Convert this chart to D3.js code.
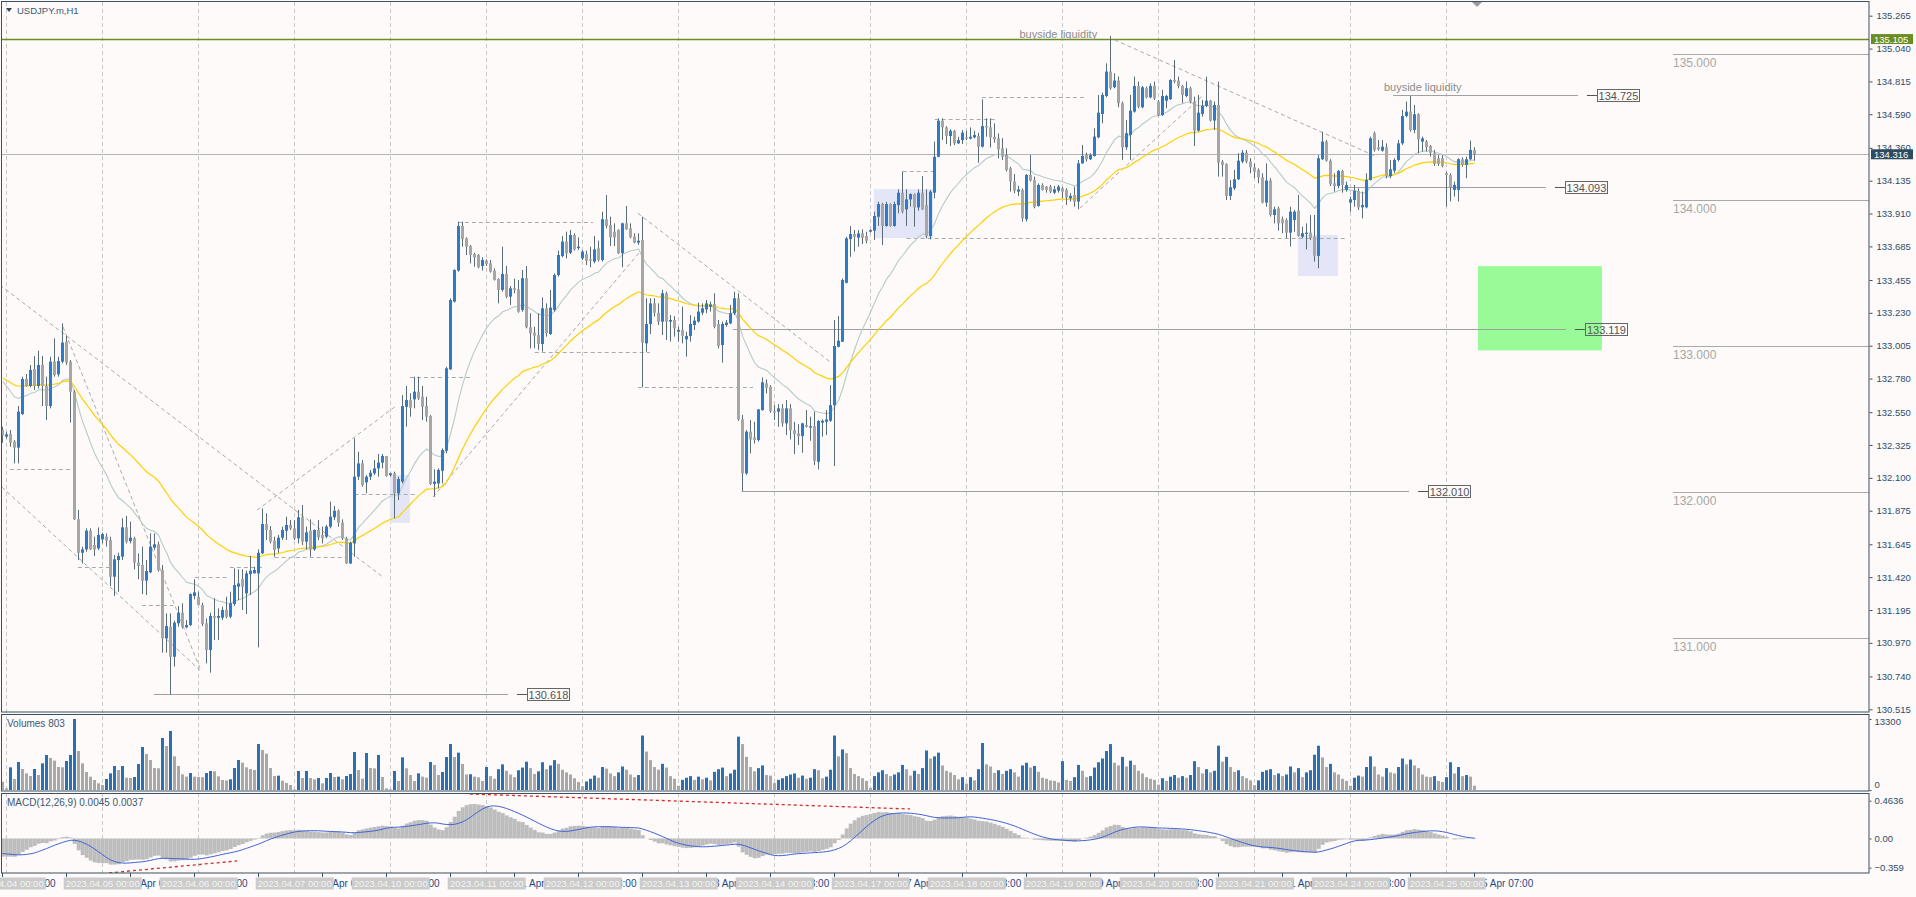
<!DOCTYPE html>
<html><head><meta charset="utf-8">
<script src="https://cdn.jsdelivr.net/npm/d3@7"></script>
<style>
html,body{margin:0;padding:0;background:#fdfaf9;overflow:hidden}
svg{display:block}
text{font-family:"Liberation Sans",Arial,sans-serif}
</style></head><body>
<svg id="c" width="1916" height="897"></svg>
<script>
// ---------------- DATA ----------------
const symbolTitle = "USDJPY.m,H1";
const days = ["2023.04.04","2023.04.05","2023.04.06","2023.04.07","2023.04.10","2023.04.11","2023.04.12","2023.04.13","2023.04.14","2023.04.17","2023.04.18","2023.04.19","2023.04.20","2023.04.21","2023.04.24","2023.04.25"];
const firstBar = -1; // last hour of 2023.04.03
const opens = [132.43,132.382,132.400,132.348,132.307,132.537,132.777,132.729,132.845,132.729,132.873,132.729,132.592,132.896,132.809,132.896,133.033,132.896,132.690,131.816,131.587,131.610,131.738,131.640,131.617,131.679,131.697,131.674,131.423,131.537,131.560,131.761,131.667,131.686,131.519,131.503,131.396,131.453,131.622,131.645,131.469,131.001,131.081,130.875,131.104,131.177,131.076,131.092,131.291,131.286,131.229,131.104,130.921,131.154,131.142,131.142,131.195,131.149,131.236,131.355,131.407,131.309,131.441,131.446,131.446,131.583,131.784,131.743,131.670,131.617,131.690,131.738,131.777,131.754,131.686,131.830,131.663,131.738,131.610,131.743,131.709,131.697,131.766,131.830,131.875,131.793,131.686,131.514,131.651,132.108,132.199,132.069,132.108,132.131,132.165,132.204,132.250,132.119,132.131,131.994,132.074,132.587,132.633,132.638,132.690,132.656,132.592,132.524,132.058,132.062,132.149,132.286,132.843,133.307,133.519,133.825,133.740,133.688,133.633,133.626,133.551,133.587,133.569,133.519,133.462,133.387,133.496,133.341,133.398,133.391,133.250,133.467,133.131,133.094,133.078,133.017,133.261,133.085,133.250,133.489,133.619,133.718,133.642,133.763,133.674,133.603,133.633,133.597,133.581,133.672,133.592,133.871,133.832,133.786,133.798,133.638,133.843,133.809,133.752,133.711,133.729,133.021,133.154,133.295,133.231,133.170,133.364,133.170,133.181,133.101,133.113,133.049,133.072,133.147,133.170,133.231,133.254,133.272,133.291,133.154,133.010,133.147,133.158,133.227,133.330,132.501,132.131,132.416,132.377,132.359,132.564,132.747,132.724,132.557,132.553,132.576,132.473,132.576,132.427,132.405,132.386,132.462,132.445,132.454,132.210,132.478,132.484,132.491,132.598,132.998,133.032,133.436,133.735,133.770,133.745,133.774,133.756,133.786,133.793,133.888,133.975,133.825,133.975,133.825,133.968,134.053,133.939,134.007,134.044,133.952,134.053,133.968,133.756,134.053,134.299,134.546,134.500,134.441,134.477,134.391,134.413,134.432,134.423,134.432,134.441,134.368,134.509,134.500,134.436,134.425,134.357,134.311,134.220,134.129,134.060,134.072,133.871,134.174,134.140,133.962,134.106,134.094,134.094,134.053,134.067,134.083,134.072,134.015,134.037,133.992,134.254,134.311,134.282,134.304,134.432,134.592,134.715,134.882,134.775,134.821,134.665,134.364,134.448,134.608,134.784,134.638,134.768,134.706,134.784,134.677,134.585,134.683,134.693,134.825,134.821,134.784,134.715,134.768,134.677,134.478,134.592,134.647,134.683,134.547,134.654,134.266,134.250,134.031,134.083,134.145,134.266,134.327,134.266,134.227,134.209,134.158,133.985,134.136,133.900,133.946,133.871,133.866,133.779,133.866,133.930,133.752,133.770,133.779,133.752,133.620,134.282,134.403,134.272,134.117,134.099,134.202,134.072,133.985,134.003,134.065,133.953,133.953,134.140,134.460,134.364,134.341,134.364,134.167,134.204,134.277,134.391,134.578,134.608,134.483,134.590,134.403,134.403,134.373,134.323,134.289,134.289,134.186,134.174,134.072,134.072,134.282,134.243,134.282,134.346];
const highs = [132.45,132.416,132.428,132.359,132.592,132.793,132.811,132.873,132.934,132.971,132.934,132.793,132.930,133.055,132.930,133.158,133.071,132.907,132.702,131.880,131.629,131.754,131.754,131.697,131.761,131.725,131.720,131.697,131.571,131.587,131.823,131.839,131.800,131.697,131.583,131.629,131.537,131.720,131.720,131.663,131.503,131.172,131.172,131.122,131.222,131.241,131.126,131.309,131.405,131.320,131.245,131.138,131.177,131.275,131.206,131.218,131.286,131.320,131.480,131.473,131.473,131.464,131.565,131.492,131.610,131.891,131.857,131.770,131.697,131.709,131.766,131.834,131.811,131.811,131.880,131.914,131.766,131.816,131.747,131.811,131.766,131.777,131.937,131.907,131.884,131.816,131.697,131.663,132.371,132.279,132.222,132.119,132.154,132.222,132.263,132.263,132.250,132.135,132.142,132.108,132.667,132.729,132.679,132.793,132.793,132.729,132.656,132.530,132.158,132.165,132.302,132.861,133.329,133.528,133.855,133.855,133.747,133.695,133.642,133.633,133.610,133.597,133.592,133.535,133.467,133.683,133.551,133.414,133.464,133.455,133.524,133.551,133.227,133.135,133.227,133.336,133.295,133.387,133.501,133.656,133.756,133.786,133.798,133.775,133.747,133.660,133.656,133.683,133.756,133.724,133.923,134.037,133.889,133.843,133.802,133.848,133.962,133.843,133.775,133.775,133.889,133.330,133.330,133.330,133.295,133.387,133.375,133.215,133.208,133.135,133.272,133.101,133.215,133.204,133.300,133.295,133.318,133.307,133.364,133.181,133.170,133.181,133.284,133.375,133.364,132.530,132.428,132.496,132.484,132.569,132.788,132.774,132.735,132.598,132.605,132.605,132.633,132.605,132.484,132.468,132.477,132.564,132.519,132.553,132.496,132.500,132.564,132.735,133.181,133.208,133.466,133.751,133.824,133.797,133.797,133.802,133.786,133.802,133.923,133.991,133.984,133.991,133.980,133.991,134.076,134.197,134.076,134.048,134.048,134.076,134.167,134.076,134.071,134.402,134.562,134.562,134.509,134.487,134.482,134.436,134.482,134.477,134.500,134.477,134.464,134.692,134.562,134.562,134.528,134.459,134.426,134.357,134.231,134.181,134.100,134.083,134.181,134.311,134.163,134.117,134.117,134.099,134.106,134.099,134.106,134.094,134.083,134.049,134.094,134.277,134.380,134.327,134.323,134.494,134.722,134.738,134.939,135.126,134.871,134.848,134.677,134.551,134.722,134.848,134.814,134.784,134.779,134.802,134.814,134.688,134.757,134.722,134.830,134.962,134.848,134.791,134.814,134.779,134.711,134.722,134.688,134.848,134.688,134.677,134.814,134.277,134.254,134.140,134.209,134.323,134.346,134.346,134.289,134.254,134.220,134.186,134.254,134.152,133.957,133.957,133.889,133.877,133.957,133.935,134.037,133.820,133.843,133.900,133.900,134.311,134.471,134.414,134.282,134.186,134.209,134.209,134.129,134.026,134.106,134.083,134.060,134.186,134.437,134.471,134.414,134.414,134.391,134.277,134.289,134.414,134.620,134.677,134.715,134.654,134.597,134.437,134.414,134.380,134.346,134.311,134.311,134.197,134.186,134.129,134.289,134.295,134.300,134.410,134.364];
const lows = [132.34,132.371,132.313,132.199,132.199,132.530,132.724,132.720,132.702,132.713,132.592,132.496,132.576,132.793,132.793,132.884,132.873,132.478,131.811,131.537,131.514,131.594,131.606,131.565,131.606,131.651,131.629,131.359,131.291,131.320,131.537,131.651,131.651,131.473,131.405,131.304,131.298,131.446,131.606,131.457,130.903,130.903,130.618,130.807,131.081,131.069,131.069,131.085,131.268,131.229,131.085,130.830,130.766,130.989,130.989,131.126,131.138,131.138,131.222,131.263,131.195,131.167,131.298,131.446,130.939,131.578,131.674,131.651,131.560,131.587,131.674,131.674,131.743,131.674,131.651,131.640,131.610,131.560,131.601,131.674,131.651,131.686,131.754,131.811,131.766,131.674,131.510,131.510,131.560,132.085,132.040,131.994,132.085,132.119,132.108,132.165,132.108,132.108,131.823,131.948,132.062,132.450,132.519,132.576,132.633,132.496,132.485,132.051,131.971,132.028,132.062,132.268,132.839,133.300,133.512,133.683,133.626,133.569,133.546,133.535,133.519,133.551,133.505,133.451,133.295,133.375,133.330,133.284,133.364,133.231,133.238,133.124,132.987,132.987,132.976,132.964,133.067,133.078,133.238,133.478,133.610,133.603,133.633,133.656,133.661,133.592,133.558,133.542,133.569,133.581,133.581,133.809,133.688,133.688,133.633,133.542,133.798,133.740,133.706,133.695,132.720,132.964,133.085,133.204,133.147,133.078,133.044,133.033,133.067,133.033,133.021,132.930,133.033,133.113,133.163,133.215,133.227,133.238,133.124,132.987,132.889,133.135,133.154,133.215,132.490,132.010,132.120,132.268,132.336,132.348,132.560,132.678,132.546,132.496,132.450,132.450,132.393,132.363,132.263,132.325,132.272,132.445,132.354,132.188,132.158,132.382,132.393,132.484,132.181,132.994,133.032,133.432,133.614,133.650,133.683,133.701,133.706,133.779,133.729,133.825,133.694,133.820,133.820,133.820,133.911,133.911,133.825,133.957,133.820,133.929,133.934,133.740,133.733,134.014,134.295,134.413,134.386,134.372,134.379,134.386,134.386,134.413,134.418,134.425,134.258,134.363,134.436,134.363,134.395,134.288,134.277,134.197,134.060,134.049,134.030,133.855,133.855,134.129,133.946,133.957,134.067,134.053,134.049,134.044,134.053,134.015,133.969,133.992,133.957,133.939,134.250,134.266,134.277,134.300,134.425,134.528,134.706,134.757,134.768,134.638,134.277,134.346,134.277,134.601,134.631,134.631,134.699,134.699,134.688,134.578,134.578,134.631,134.688,134.802,134.768,134.665,134.706,134.665,134.373,134.471,134.574,134.638,134.540,134.483,134.163,134.163,134.003,134.003,134.072,134.140,134.254,134.254,134.186,134.152,134.117,133.980,133.957,133.889,133.843,133.793,133.775,133.741,133.684,133.786,133.752,133.741,133.665,133.729,133.581,133.535,134.277,134.266,134.099,134.060,134.083,134.053,134.060,133.923,133.957,133.935,133.877,133.946,134.136,134.334,134.341,134.334,134.152,134.152,134.186,134.266,134.380,134.569,134.471,134.460,134.323,134.334,134.334,134.300,134.236,134.236,134.227,133.957,133.993,134.026,133.992,134.231,134.152,134.277,134.272];
const closes = [132.39,132.398,132.341,132.307,132.553,132.777,132.729,132.839,132.729,132.873,132.729,132.592,132.896,132.804,132.900,133.026,132.889,132.690,131.816,131.587,131.610,131.738,131.610,131.610,131.709,131.715,131.670,131.423,131.542,131.565,131.761,131.663,131.690,131.519,131.496,131.396,131.462,131.629,131.645,131.469,131.001,131.085,130.875,131.108,131.177,131.081,131.092,131.304,131.316,131.229,131.099,130.921,131.154,131.142,131.154,131.195,131.149,131.241,131.366,131.377,131.355,131.446,131.464,131.469,131.587,131.784,131.743,131.663,131.606,131.690,131.743,131.777,131.754,131.686,131.830,131.663,131.727,131.610,131.743,131.693,131.686,131.766,131.834,131.875,131.793,131.686,131.514,131.656,132.108,132.199,132.051,132.108,132.135,132.165,132.204,132.250,132.113,132.131,131.994,132.092,132.592,132.633,132.581,132.690,132.645,132.587,132.519,132.058,132.074,132.154,132.291,132.850,133.318,133.524,133.825,133.734,133.683,133.626,133.610,133.542,133.592,133.565,133.512,133.455,133.387,133.496,133.341,133.398,133.387,133.238,133.467,133.131,133.090,133.074,133.017,133.261,133.090,133.266,133.489,133.626,133.718,133.638,133.763,133.665,133.683,133.649,133.587,133.587,133.665,133.592,133.871,133.825,133.747,133.747,133.638,133.843,133.802,133.747,133.711,133.724,133.026,133.154,133.295,133.231,133.170,133.364,133.170,133.181,133.124,133.113,133.072,133.072,133.154,133.177,133.238,133.261,133.295,133.288,133.135,133.003,133.154,133.163,133.227,133.330,132.501,132.131,132.416,132.363,132.359,132.569,132.754,132.717,132.557,132.548,132.576,132.473,132.576,132.427,132.400,132.386,132.473,132.450,132.454,132.217,132.489,132.491,132.500,132.598,133.003,133.039,133.455,133.740,133.770,133.751,133.774,133.745,133.724,133.797,133.893,133.975,133.825,133.975,133.825,133.975,134.053,133.923,134.007,134.044,133.952,134.053,133.939,133.756,134.060,134.299,134.546,134.500,134.441,134.477,134.391,134.413,134.464,134.423,134.436,134.448,134.368,134.509,134.500,134.432,134.418,134.350,134.300,134.209,134.129,134.067,134.075,133.878,134.174,134.136,133.957,134.106,134.072,134.072,134.060,134.076,134.094,134.060,134.021,134.031,133.992,134.254,134.304,134.282,134.311,134.437,134.601,134.722,134.882,134.768,134.821,134.665,134.364,134.460,134.615,134.784,134.642,134.775,134.706,134.784,134.699,134.585,134.715,134.715,134.825,134.814,134.784,134.722,134.768,134.677,134.478,134.601,134.647,134.683,134.547,134.654,134.259,134.243,134.031,134.090,134.145,134.272,134.327,134.266,134.227,134.197,134.158,133.985,134.136,133.900,133.939,133.843,133.843,133.779,133.923,133.923,133.757,133.775,133.779,133.741,133.620,134.289,134.403,134.272,134.113,134.099,134.202,134.106,134.106,134.008,134.065,133.953,133.969,134.140,134.425,134.346,134.350,134.368,134.167,134.213,134.277,134.391,134.578,134.608,134.483,134.590,134.419,134.425,134.364,134.327,134.250,134.250,134.236,134.174,134.090,134.106,134.282,134.243,134.282,134.346,134.316];
// tick volumes (last bar = 803)
const volumes = [1560,312,4245,2060,5245,3934,3122,2623,3934,2810,4995,6556,5994,5495,4308,4250,5432,6556,13300,7305,4995,3372,2498,1873,1249,937,2060,3122,4496,3746,4496,2310,2250,2435,4870,8055,6744,5620,4120,4060,9741,8242,11052,6307,4496,2935,2498,3184,2498,2450,2400,3184,3559,3500,2560,1873,1800,1998,4121,5620,5120,4246,3934,3746,8617,7493,6806,4121,2623,2685,1748,1311,937,100,3559,2248,3559,2248,1998,2248,1249,2248,3184,2435,2500,1998,2623,2997,7118,3746,2123,6931,4121,4050,6556,2435,312,125,3559,1686,6119,4059,2810,1686,3122,2498,2310,5245,4683,2810,3372,6182,8617,6182,6993,4870,2900,2950,2500,2370,1686,4308,2600,
  2100,3900,4800,3600,2900,2400,3700,4200,5300,4100,3000,3500,5200,3900,4600,5600,4900,3800,3300,2900,2200,1500,
  700,1600,2100,2700,2300,4300,4000,3100,2600,3300,4400,3800,2900,2400,2800,10200,7200,5600,4300,3800,4900,4200,2600,2100,
  800,1900,2300,2600,1900,2500,2000,2300,1800,3400,3900,4200,2600,3100,3800,10000,8600,6200,4300,3500,4100,4600,2800,2700,
  1300,1900,2200,2600,2900,3100,2300,2700,2100,2300,3900,3700,2200,2500,3800,10200,6300,7600,6900,4100,3000,2600,2200,1700,
  400,2600,3300,3700,3000,2600,2900,3300,4700,3900,2700,3600,3000,4100,7400,5900,6300,7000,4600,3600,3300,2800,2000,2400,
  1200,2400,1800,3900,8800,4800,4400,3200,3700,3000,3600,3900,3300,2500,4600,5100,4200,4500,3400,2300,2100,1800,1700,1400,
  5400,1900,1700,2400,4700,3600,2400,2600,4200,5200,5900,7300,8600,5100,4600,6200,4400,5500,4700,3600,3100,2400,2100,1900,
  1000,2200,1700,2500,2800,2300,2600,2300,2800,5400,4300,3100,3900,3300,3600,8300,5300,6200,4300,3400,3700,2600,2200,1800,
  900,1800,3400,3700,3900,2800,3100,2600,2900,4400,3300,4100,2400,3300,3700,6600,8300,6100,4300,4900,3300,2900,2100,1700,
  800,2300,2700,2500,4300,6300,4400,2900,2500,4100,3300,3100,4300,5900,4800,5700,4600,4100,2900,2500,2400,2600,1700,1500,
  2400,5200,3100,4300,2600,2800,2500,803];
const priceTicks = [135.265,135.040,134.815,134.590,134.360,134.135,133.910,133.685,133.455,133.230,133.005,132.780,132.550,132.325,132.100,131.875,131.645,131.420,131.195,130.970,130.740,130.515];
const volumeTicks = [13300, 0];
const macdTicks = [0.4636, 0.00, -0.359];
const maSeeds = [132.80, 132.80];            // EMA50 (yellow), EMA20 (grey) at first bar
const macdSeeds = [132.63, 132.85, -0.18];     // EMA12, EMA26, signal at first bar
const roundLevels = [135, 134, 133, 132, 131];
const keyLevels = [ // price, from bar, to bar
  [130.618, 36.8, 125.3],[132.010, 183.8, 350.6],[133.119, 181.6, 389.8],[134.093, 334.3, 384.8],[134.725, 346.6, 392.8]];
const liquidityLevel = 135.105;
const currentPrice = 134.316;
const dashedLevels = [ // price, from bar, to bar
  [132.158,0.8,16.6],[131.489,17.8,25.8],[131.229,33.8,41.6],[131.421,47,55],[131.489,55.8,63.8],[131.557,67,85.3],[131.988,87,102.8],
  [132.788,100.8,116.6],[133.852,112.8,146.6],[132.960,132,160.8],[132.722,157.8,186.6],[134.201,224,231.6],[133.742,225,335],[134.557,232,247.6],[134.708,243.8,270]];
const trendLines = [ // bar1, price1, bar2, price2
  [-1.7,133.420,94.1,131.420],[14.1,133.133,48.3,130.797],[-1.2,132.037,48.3,130.783],[62.6,131.879,97.6,132.598],
  [106.6,131.969,158.3,133.648],[157.8,133.912,206.3,132.885],[277,135.099,342.6,134.298],[268.3,133.947,299.2,134.722]];
const zones = [[95.8,132.119,100.8,131.791],[216.8,134.077,231.6,133.742],[322.8,133.763,332.8,133.482]];
const targetZone = [367.8,133.550,398.8,132.973];
const notes = [["buyside liquidity",253.2,135.113],["buyside liquidity",344.3,134.750]];
const macdLines = [[25.6,-0.423,57.6,-0.276],[115.8,0.546,225.8,0.362]];

// ---------------- CHART ----------------
const svg = d3.select('#c');
const W = 1916, AX = 1869;
const BG = '#fdfaf9';
const x = d3.scaleLinear().domain([-1, 367]).range([2.7, 1474.7]);
const yP = d3.scaleLinear().domain([130.515, 135.265]).range([709.3, 15.7]);
const yV = d3.scaleLinear().domain([0, 13300]).range([790, 719]);
const yM = d3.scaleLinear().domain([-0.359, 0.4636]).range([867.7, 800.7]);
const panels = {main:[2,712], vol:[715,791], macd:[794,873]};

svg.append('rect').attr('width',W).attr('height',897).attr('fill',BG);
const defs = svg.append('defs');
Object.entries(panels).forEach(([k,[t,b]])=>{
  defs.append('clipPath').attr('id','clip-'+k).append('rect').attr('x',2).attr('y',t).attr('width',AX-2).attr('height',b-t);
});

const n = opens.length;
const idx = d3.range(n);
const bi = k => k + firstBar;
const px = k => Math.floor(x(bi(k))) + 0.5;

// vertical day separators
const gridG = svg.append('g');
days.forEach((d,j)=>{
  const xx = Math.floor(x(j*24))+0.5;
  gridG.append('line').attr('x1',xx).attr('x2',xx).attr('y1',2).attr('y2',873)
    .attr('stroke','#c9c9c9').attr('stroke-dasharray','4,3');
});

// ---- main panel ----
const gM = svg.append('g').attr('clip-path','url(#clip-main)');
gM.append('rect').attr('x',x(targetZone[0])).attr('y',yP(targetZone[1]))
  .attr('width',x(targetZone[2])-x(targetZone[0])).attr('height',yP(targetZone[3])-yP(targetZone[1])).attr('fill','#98fb98');
gM.selectAll('rect.zone').data(zones).join('rect').attr('class','zone')
  .attr('x',d=>x(d[0])).attr('y',d=>yP(d[1])).attr('width',d=>x(d[2])-x(d[0])).attr('height',d=>yP(d[3])-yP(d[1])).attr('fill','#e4e6f8');
roundLevels.forEach(p=>{
  const yy = Math.round(yP(p))+0.5;
  gM.append('line').attr('x1',1673).attr('x2',AX).attr('y1',yy).attr('y2',yy).attr('stroke','#a9a9a9');
  gM.append('text').attr('x',1673).attr('y',yy+12).attr('font-size',12).attr('fill','#a7a7a7').text(d3.format('.3f')(p));
});
const yl = Math.round(yP(liquidityLevel))+0.5;
gM.append('line').attr('x1',2).attr('x2',AX).attr('y1',yl).attr('y2',yl).attr('stroke','#6b8e23').attr('stroke-width',1.3);
const yc = Math.round(yP(currentPrice))+0.5;
gM.append('line').attr('x1',2).attr('x2',AX).attr('y1',yc).attr('y2',yc).attr('stroke','#b5b5b5');
gM.selectAll('line.dl').data(dashedLevels).join('line').attr('class','dl')
  .attr('x1',d=>x(d[1])).attr('x2',d=>x(d[2])).attr('y1',d=>Math.round(yP(d[0]))+0.5).attr('y2',d=>Math.round(yP(d[0]))+0.5)
  .attr('stroke','#aaaaaa').attr('stroke-dasharray','4,3');
gM.selectAll('line.tl').data(trendLines).join('line').attr('class','tl')
  .attr('x1',d=>x(d[0])).attr('y1',d=>yP(d[1])).attr('x2',d=>x(d[2])).attr('y2',d=>yP(d[3]))
  .attr('stroke','#aaaaaa').attr('stroke-dasharray','4,3');
keyLevels.forEach(([p,a,b])=>{
  const yy = Math.round(yP(p))+0.5, xe = x(b);
  gM.append('line').attr('x1',x(a)).attr('x2',xe).attr('y1',yy).attr('y2',yy).attr('stroke','#a0a0a0');
  gM.append('line').attr('x1',xe+9).attr('x2',xe+19).attr('y1',yy).attr('y2',yy).attr('stroke','#555');
  gM.append('rect').attr('x',Math.round(xe+19)+0.5).attr('y',yy-6).attr('width',42).attr('height',12).attr('fill','none').attr('stroke','#666');
  gM.append('text').attr('x',xe+40.5).attr('y',yy+4.2).attr('text-anchor','middle').attr('font-size',11).attr('fill','#555').text(d3.format('.3f')(p));
});
notes.forEach(([t,b,p])=>{
  gM.append('text').attr('x',x(b)).attr('y',yP(p)).attr('font-size',11).attr('fill','#8c8c8c').text(t);
});

// moving averages (derived from closes)
function ema(vals, period, seed){ const a = 2/(period+1); let e = seed; return vals.map(v => (e = e + a*(v-e))); }
const maSlow = ema(closes, 50, maSeeds[0]);
const maFast = ema(closes, 20, maSeeds[1]);
const line = d3.line().x((d,k)=>x(bi(k))).y(d=>yP(d));
gM.append('path').attr('d',line(maFast)).attr('fill','none').attr('stroke','#b4cccb').attr('stroke-width',1.1);
gM.append('path').attr('d',line(maSlow)).attr('fill','none').attr('stroke','#ffd000').attr('stroke-width',1.2);

// candles
const up = k => closes[k] >= opens[k];
gM.selectAll('line.wick').data(idx).join('line').attr('class','wick')
  .attr('x1',px).attr('x2',px).attr('y1',k=>yP(highs[k])).attr('y2',k=>yP(lows[k]))
  .attr('stroke','#5a6c74');
gM.selectAll('rect.body').data(idx).join('rect').attr('class','body')
  .attr('x',k=>px(k)-1.5).attr('width',3)
  .attr('y',k=>Math.min(yP(opens[k]),yP(closes[k])))
  .attr('height',k=>Math.max(1,Math.abs(yP(opens[k])-yP(closes[k]))))
  .attr('fill',k=>up(k)?'#2a7bc9':'#a6a6a6');

// ---- volumes ----
const gV = svg.append('g').attr('clip-path','url(#clip-vol)');
gV.selectAll('rect').data(volumes).join('rect')
  .attr('x',(d,k)=>px(k)-1.5).attr('width',3)
  .attr('y',d=>yV(d)).attr('height',d=>yV(0)-yV(d))
  .attr('fill',(d,k)=> k>0 && d>volumes[k-1] ? '#2b70b3' : '#a8a8a8');

// ---- MACD (derived from closes) ----
const e12 = ema(closes, 12, macdSeeds[0]);
const e26 = ema(closes, 26, macdSeeds[1]);
const macd = e12.map((v,k)=>v-e26[k]);
const signal = macd.map((v,k)=>{ let s=0; for(let j=k-8;j<=k;j++) s += j>=0 ? macd[j] : macdSeeds[2]; return s/9; });
const gD = svg.append('g').attr('clip-path','url(#clip-macd)');
gD.selectAll('rect').data(macd).join('rect')
  .attr('x',(d,k)=>x(bi(k))-2).attr('width',4)
  .attr('y',d=>Math.min(yM(d),yM(0))).attr('height',d=>Math.abs(yM(d)-yM(0)))
  .attr('fill','#bdbdbd');
gD.append('path').attr('d',d3.line().x((d,k)=>x(bi(k))).y(d=>yM(d))(signal)).attr('fill','none').attr('stroke','#3d63dd').attr('stroke-width',1);
gD.selectAll('line.ml').data(macdLines).join('line').attr('class','ml')
  .attr('x1',d=>x(d[0])).attr('y1',d=>yM(d[1])).attr('x2',d=>x(d[2])).attr('y2',d=>yM(d[3]))
  .attr('stroke','#d42a2a').attr('stroke-width',1.3).attr('stroke-dasharray','3,3');

// ---- frames ----
Object.values(panels).forEach(([t,b])=>{
  svg.append('rect').attr('x',1.5).attr('y',t-0.5).attr('width',AX-1.5).attr('height',b-t+0.5)
    .attr('fill','none').attr('stroke','#3b5163');
});
svg.append('path').attr('d','M1472,2 L1482,2 L1477,7 Z').attr('fill','#9a9a9a');

// ---- price axis ----
const FONT = '"Liberation Sans",Arial,sans-serif';
const axG = svg.append('g').attr('transform',`translate(${AX+0.5},0)`);
axG.call(d3.axisRight(yP).tickValues(priceTicks).tickFormat(d3.format('.3f')).tickSize(3).tickPadding(4));
axG.select('.domain').remove();
axG.selectAll('line').attr('stroke','#3b5163');
axG.selectAll('text').attr('font-size',9.5).attr('fill','#2d4d6e').attr('font-family',FONT);
function axLabel(p, fill){
  const yy = yP(p);
  svg.append('rect').attr('x',AX+2).attr('y',yy-5).attr('width',42).attr('height',10).attr('fill',fill);
  svg.append('text').attr('x',AX+5).attr('y',yy+3.5).attr('font-size',9.5).attr('fill','#fff').text(d3.format('.3f')(p));
}
axLabel(liquidityLevel,'#6b8e23');
axLabel(currentPrice,'#2f4b5f');
// volume axis: labels kept inside the panel
const vAx = svg.append('g').attr('transform',`translate(${AX+0.5},0)`);
vAx.call(d3.axisRight(yV).tickValues(volumeTicks).tickFormat(d3.format('d')).tickSize(2).tickPadding(3));
vAx.select('.domain').remove();
vAx.selectAll('.tick text').attr('dy', d => d === 0 ? '-0.25em' : '0.62em');
// macd axis
const mAx = svg.append('g').attr('transform',`translate(${AX+0.5},0)`);
mAx.call(d3.axisRight(yM).tickValues(macdTicks).tickFormat(d=> d===0?'0.00': (d===0.4636?'0.4636':d3.format('.3f')(d))).tickSize(2).tickPadding(3));
mAx.select('.domain').remove();
[vAx,mAx].forEach(g=>{ g.selectAll('line').attr('stroke','#3b5163');
  g.selectAll('text').attr('font-size',9.5).attr('fill','#2d4d6e').attr('font-family',FONT); });

// ---- titles ----
svg.append('path').attr('d','M6,8 L12,8 L9,12 Z').attr('fill','#34495e');
svg.append('text').attr('x',17).attr('y',14).attr('font-size',9.5).attr('fill','#3b5875').text(symbolTitle);
svg.append('text').attr('x',7).attr('y',727).attr('font-size',10).attr('fill','#3b5875').text('Volumes ' + volumes[volumes.length-1]);
svg.append('text').attr('x',7).attr('y',806).attr('font-size',10).attr('fill','#3b5875').text('MACD(12,26,9) 0.0045 0.0037');

// ---- time axis ----
const monthName = 'Apr';
const tAx = svg.append('g');
const tickBars = d3.range(firstBar, 368, 16);
function dayLabel(i){
  const j = Math.floor(i/24), h = i - j*24;
  const dd = j < 0 ? 3 : +days[j].slice(8);
  return `${dd} ${monthName} ${String(h).padStart(2,'0')}:00`;
}
tickBars.forEach(i=>{
  const xx = Math.floor(x(i))+0.5;
  tAx.append('line').attr('x1',xx).attr('x2',xx).attr('y1',873).attr('y2',877).attr('stroke','#3b5163');
  tAx.append('text').attr('x',xx+2).attr('y',887).attr('font-size',10).attr('fill','#1d4a86').text(dayLabel(i));
});
days.forEach((d,j)=>{
  const xx = x(j*24);
  tAx.append('rect').attr('x',xx-39).attr('y',877.5).attr('width',78).attr('height',12).attr('fill','#cbcbcb');
  tAx.append('text').attr('x',xx).attr('y',887).attr('text-anchor','middle').attr('font-size',9.5).attr('fill','#f4f4f4').text(d+' 00:00');
});
</script>
</body></html>
